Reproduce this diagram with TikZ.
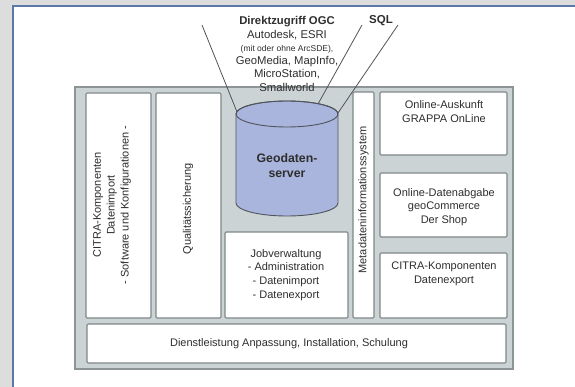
\documentclass[tikz,border=0pt]{standalone}
\usepackage{fontspec}
\setmainfont{Liberation Sans}
\definecolor{bggray}{HTML}{DDDDDD}
\definecolor{panelblue}{HTML}{5B78A8}
\definecolor{framefill}{HTML}{CBD3D5}
\definecolor{frameline}{HTML}{8C9496}
\definecolor{boxline}{HTML}{7E8688}
\definecolor{txtcol}{HTML}{2E2E2E}
\definecolor{cylfill}{HTML}{A9B5DC}
\definecolor{cylline}{HTML}{50545C}
\begin{document}
\begin{tikzpicture}[x=1pt,y=-1pt,
  box/.style={draw=boxline, fill=white, line width=1.1pt, rounded corners=1.2pt, inner sep=0pt},
  txt/.style={text=txtcol, font=\fontsize{11}{13.8}\selectfont, align=center, inner sep=0pt},
  conn/.style={draw=cylline, line width=0.8pt},
  cylstyle/.style={draw=cylline, fill=cylfill, line width=0.9pt}]
\useasboundingbox (0,0) rectangle (575,387);
% background and panel
\fill[bggray] (0,0) rectangle (575,387);
\fill[white] (13,6) rectangle (575,387);
\draw[panelblue, line width=1.3pt] (13,387) -- (13,6) -- (575,6);
% outer frame
\node[draw=frameline, fill=framefill, line width=1.6pt, inner sep=0pt,
      minimum width=438, minimum height=282] (frame) at (294,228) {};
% boxes
\node[box, minimum width=65, minimum height=225] (citra) at (118.5,205.5) {};
\node[box, minimum width=65, minimum height=225] (quali) at (188.5,205.5) {};
\node[box, minimum width=123, minimum height=86] (job) at (286.5,275) {};
\node[box, minimum width=21, minimum height=226] (meta) at (363.5,205) {};
\node[box, minimum width=127, minimum height=63] (auskunft) at (443.5,123.5) {};
\node[box, minimum width=127, minimum height=64] (abgabe) at (443.5,205) {};
\node[box, minimum width=127, minimum height=65] (export) at (443.5,285.5) {};
\node[box, minimum width=419, minimum height=39] (dienst) at (296.5,343.5) {};
% cylinder
\path[cylstyle] (236,114) -- (236,203) arc[start angle=180, end angle=0, x radius=51, y radius=13]
  -- (338,114) arc[start angle=0, end angle=-180, x radius=51, y radius=13] -- cycle;
\draw[cylstyle, fill=none] (287,114) ellipse[x radius=51, y radius=13];
\node[txt, font=\fontsize{12.3}{15}\selectfont\bfseries] (srv) at (287,166) {Geodaten-\\server};
\coordinate (srvL) at (237,112);
\coordinate (srvM) at (318,104);
\coordinate (srvR) at (338,113);
% texts in boxes
\node[txt, rotate=90] (tcitra) at (112,205) {CITRA-Komponenten\\Datenimport\\- Software und Konfigurationen -};
\node[txt, rotate=90] (tquali) at (188,209) {Qualitätssicherung};
\node[txt, rotate=90] (tmeta) at (363.5,200) {Metadateninformationssystem};
\node[txt] (tjob) at (286,275) {Jobverwaltung\\- Administration\\- Datenimport\\- Datenexport};
\node[txt] (tausk) at (444,111.5) {Online-Auskunft\\GRAPPA OnLine};
\node[txt] (tabg) at (444,207) {Online-Datenabgabe\\geoCommerce\\Der Shop};
\node[txt] (texp) at (444,274) {CITRA-Komponenten\\Datenexport};
\node[txt] (tdienst) at (289,344) {Dienstleistung Anpassung, Installation, Schulung};
% top texts
\node[txt, font=\fontsize{11.3}{13.3}\selectfont] (direct) at (287,54)
  {{\bfseries Direktzugriff OGC}\\Autodesk, ESRI\\{\fontsize{8.5}{10}\selectfont (mit oder ohne ArcSDE),}\\GeoMedia, MapInfo,\\MicroStation,\\Smallworld};
\node[txt, font=\fontsize{11.5}{13}\selectfont\bfseries] (sql) at (381,21) {SQL};
\coordinate (dL) at (202,25);
\coordinate (dM) at (362,25);
\coordinate (dR) at (398,25);
\draw[conn] (dL) -- (srvL);
\draw[conn] (dM) -- (srvM);
\draw[conn] (dR) -- (srvR);
\end{tikzpicture}
\end{document}
